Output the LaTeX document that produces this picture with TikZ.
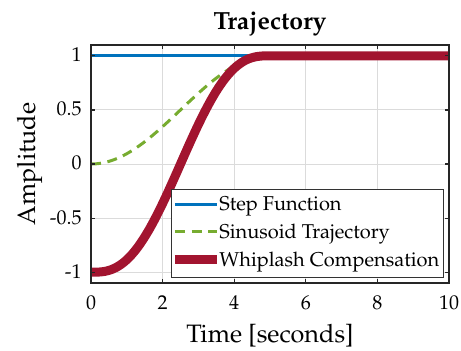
\documentclass[tikz,border=0pt]{standalone}
\usepackage[T1]{fontenc}
\usepackage{mathpazo}
\usetikzlibrary{positioning}
\definecolor{mblue}{rgb}{0,0.447,0.741}
\definecolor{mgreen}{rgb}{0.466,0.674,0.188}
\definecolor{mred}{rgb}{0.635,0.078,0.184}
\tikzstyle{ticklab} = [font=\fontsize{10}{12}\selectfont, inner sep=0pt]
\tikzstyle{axlab} = [font=\fontsize{12.6}{14}\selectfont, inner sep=0pt, anchor=base]
\tikzstyle{leg} = [font=\fontsize{10}{12}\selectfont, inner sep=0pt, anchor=base west]
\tikzstyle{gridline} = [black!14, line width=0.5pt]
\tikzstyle{axline} = [black!85, line width=0.6pt]
\tikzstyle{stepline} = [mblue, line width=1.5pt]
\tikzstyle{sinline} = [mgreen, line width=1.5pt, dash pattern=on 5pt off 3.3pt]
\tikzstyle{whipline} = [mred, line width=4.5pt]

\begin{document}
\begin{tikzpicture}[x=17.9pt, y=54.1pt]
	\useasboundingbox (-2.542,-1.728) rectangle (10.335,1.516);

	% grid
	\foreach \x in {2,4,6,8}
		\draw [gridline] (\x,-1.1) -- (\x,1.1);
	\foreach \y in {-1,-0.5,0,0.5,1}
		\draw [gridline] (0,\y) -- (10,\y);

	% curves
	\begin{scope}
		\clip (0,-1.1) rectangle (10,1.1);
		\draw [stepline] (0,1) -- (10,1);
		\draw [sinline] plot[domain=0:5, samples=80] (\x, {(1-cos(36*\x))/2}) -- (10,1);
		\draw [whipline] plot[domain=0:5, samples=80] (\x, {-1+2*(10*(\x/5)^3-15*(\x/5)^4+6*(\x/5)^5)}) -- (10,1);
	\end{scope}

	% axes box and ticks
	\draw [axline] (0,-1.1) rectangle (10,1.1);
	\foreach \x in {0,2,...,10} {
		\draw [axline] (\x,-1.1) -- ++(0,2pt);
		\draw [axline] (\x,1.1) -- ++(0,-2pt);
		\node (x\x) [ticklab, anchor=base] at (\x,-1.349) {\x};
	}
	\foreach \y/\t in {-1/-1,-0.5/-0.5,0/0,0.5/0.5,1/1} {
		\draw [axline] (0,\y) -- ++(2pt,0);
		\draw [axline] (10,\y) -- ++(-2pt,0);
		\node [ticklab, anchor=base east] at (-0.25,\y-0.055) {\t};
	}

	\node (t) [axlab, font=\fontsize{12.4}{14}\selectfont\bfseries] at (5,1.245) {Trajectory};
	\node (xl) [axlab] at (5,-1.645) {Time [seconds]};
	\node (yl) [axlab, rotate=90] at (-1.564,0) {Amplitude};

	% legend
	\draw [fill=white, draw=black!80, line width=0.5pt] (2.24,-0.24) rectangle (9.84,-1.047);
	\coordinate (l1) at (2.346,-0.372);
	\coordinate (l2) at (2.346,-0.626);
	\coordinate (l3) at (2.346,-0.887);
	\draw [stepline] (l1) -- ++(1.165,0);
	\draw [sinline] (l2) -- ++(1.165,0);
	\draw [whipline] (l3) -- ++(1.165,0);
	\node (s) [leg] at (3.575,-0.434) {Step Function};
	\node (n) [leg] at (3.575,-0.688) {Sinusoid Trajectory};
	\node (w) [leg] at (3.575,-0.949) {Whiplash Compensation};
\end{tikzpicture}
\end{document}
